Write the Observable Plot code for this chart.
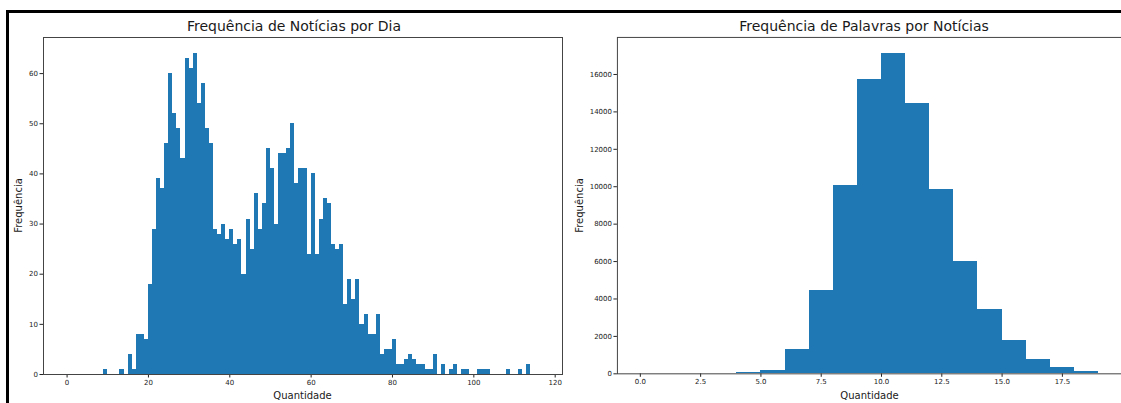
<!DOCTYPE html>
<html><head><meta charset="utf-8">
<script src="https://cdn.jsdelivr.net/npm/d3@7"></script>
<script src="https://cdn.jsdelivr.net/npm/@observablehq/plot@0.6"></script>
<style>
html,body{margin:0;padding:0;width:1121px;height:403px;overflow:hidden;background:#fff;}
body{position:relative;font-family:"DejaVu Sans",sans-serif;}
.abs{position:absolute;top:0;}
#overlay{position:absolute;left:0;top:0;pointer-events:none;}
</style></head><body>
<div id="left" class="abs" style="left:0"></div>
<div id="right" class="abs" style="left:570px"></div>
<svg id="overlay" width="1121" height="403"></svg>
<script>
// Gráfico 1: Frequência de Notícias por Dia (bins de largura 1)
const diaQtd = [9,13,15,16,17,18,19,
  20,21,22,23,24,25,26,27,28,29,
  30,31,32,33,34,35,36,37,38,39,
  40,41,42,43,44,45,46,47,48,49,
  50,51,52,53,54,55,56,57,58,59,
  60,61,62,63,64,65,66,67,68,69,
  70,71,72,73,74,75,76,77,78,79,
  80,81,82,83,84,85,86,87,88,89,
  90,92,94,95,97,98,101,102,103,108,111,113];
const diaFreq = [1,1,4,1,8,8,7,
  18,29,39,37,46,60,52,49,43,63,
  61,64,54,58,49,46,29,28,30,27,
  29,26,27,20,31,25,36,29,34,45,
  41,30,44,44,45,50,38,41,41,24,
  40,24,31,35,34,26,25,26,14,19,
  15,19,10,12,8,8,12,4,5,5,
  7,2,2,3,4,3,2,2,1,1,
  4,2,1,2,1,1,1,1,1,1,1,2];
const diaBinWidth = 1;
const diaXTicks = [0,20,40,60,80,100,120];
const diaYTicks = [0,10,20,30,40,50,60];

// Gráfico 2: Frequência de Palavras por Notícias
const palQtd  = [4,5,6,7,8,9,10,11,12,13,14,15,16,17,18];
const palFreq = [50,200,1280,4480,10050,15720,17120,14440,9840,6000,3430,1780,780,320,110];
const palBinWidth = 1;
const palXTicks = [0,2.5,5,7.5,10,12.5,15,17.5];
const palYTicks = [0,2000,4000,6000,8000,10000,12000,14000,16000];

const titles = ["Frequência de Notícias por Dia", "Frequência de Palavras por Notícias"];
const xLabel = "Quantidade";
const yLabel = "Frequência";

const blue = "#1f77b4";
const baseStyle = {fontFamily: "DejaVu Sans, sans-serif", fontSize: "7px", color: "#222", background: "transparent", overflow: "visible"};

const dia = diaQtd.map((q, i) => ({x1: q, x2: q + diaBinWidth, f: diaFreq[i]}));
const pal = palQtd.map((q, i) => ({x1: q, x2: q + palBinWidth, f: palFreq[i]}));

const left = Plot.plot({
  width: 570, height: 403,
  marginLeft: 43, marginRight: 8, marginTop: 37, marginBottom: 29,
  style: baseStyle,
  x: {domain: [-5.8, 121.8], ticks: diaXTicks, tickSize: 3.5, tickPadding: 2, label: null},
  y: {domain: [0, 67.2], ticks: diaYTicks, tickSize: 3.5, tickPadding: 2, label: null},
  marks: [
    Plot.rectY(dia, {x1: "x1", x2: "x2", y: "f", fill: blue, shapeRendering: "crispEdges"}),
    Plot.frame({stroke: "#444", strokeWidth: 1})
  ]
});
document.getElementById("left").appendChild(left);

const right = Plot.plot({
  width: 552, height: 403,
  marginLeft: 47, marginRight: 0, marginTop: 37, marginBottom: 29,
  style: baseStyle,
  x: {domain: [-0.95, 19.95], ticks: palXTicks, tickFormat: d3.format(".1f"), tickSize: 3.5, tickPadding: 2, label: null},
  y: {domain: [0, 17980], ticks: palYTicks, tickFormat: d3.format("d"), tickSize: 3.5, tickPadding: 2, label: null},
  marks: [
    Plot.rectY(pal, {x1: "x1", x2: "x2", y: "f", fill: blue, shapeRendering: "crispEdges"}),
    Plot.frame({stroke: "#444", strokeWidth: 1})
  ]
});
document.getElementById("right").appendChild(right);

// Texts and notebook border
const ov = d3.select("#overlay");
ov.append("rect").attr("x", 6).attr("y", 10).attr("width", 1200).attr("height", 3).attr("fill", "#000");
ov.append("rect").attr("x", 6).attr("y", 10).attr("width", 3).attr("height", 400).attr("fill", "#000");
const T = (x, y, s, size, rot) => {
  const t = ov.append("text").attr("text-anchor", "middle").attr("font-family", "DejaVu Sans, sans-serif")
    .attr("font-size", size).attr("fill", "#1a1a1a").text(s);
  t.attr("transform", `translate(${x},${y})` + (rot ? " rotate(-90)" : ""));
};
T(294, 31, titles[0], 14);
T(864, 31, titles[1], 14);
T(302.5, 399, xLabel, 10);
T(869.5, 399, xLabel, 10);
T(22, 205.5, yLabel, 10, true);
T(582.5, 205.5, yLabel, 10, true);
</script>
</body></html>
